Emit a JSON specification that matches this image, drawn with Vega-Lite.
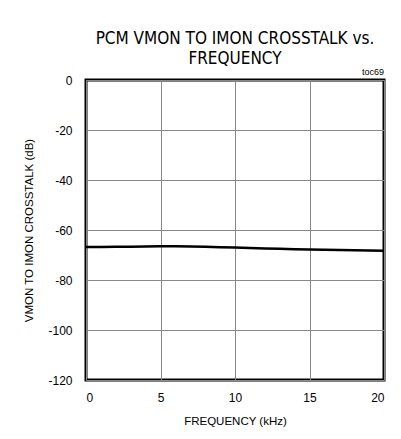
{
  "$schema": "https://vega.github.io/schema/vega-lite/v6.json",
  "width": 298,
  "height": 300,
  "autosize": "none",
  "padding": {"left": 86, "top": 80, "right": 17, "bottom": 59},
  "background": "white",
  "title": {
    "text": ["PCM VMON TO IMON CROSSTALK vs.", "FREQUENCY"],
    "font": "DejaVu Sans Condensed",
    "fontSize": 17,
    "fontWeight": "normal",
    "color": "black",
    "lineHeight": 20,
    "offset": 0,
    "anchor": "middle"
  },
  "config": {
    "view": {"stroke": "black", "strokeWidth": 3},
    "axis": {
      "labelFont": "Liberation Sans",
      "titleFont": "Liberation Sans",
      "labelFontSize": 12,
      "titleFontSize": 11.5,
      "titleFontWeight": "normal",
      "labelColor": "black",
      "titleColor": "black",
      "gridColor": "#888888",
      "gridWidth": 1,
      "gridOpacity": 1,
      "domain": false,
      "ticks": false
    }
  },
  "datasets": {
    "curve": [
      {"f": 0, "db": -66.8},
      {"f": 1, "db": -66.8},
      {"f": 2, "db": -66.7},
      {"f": 3, "db": -66.7},
      {"f": 4, "db": -66.6},
      {"f": 5, "db": -66.5},
      {"f": 6, "db": -66.5},
      {"f": 7, "db": -66.6},
      {"f": 8, "db": -66.7},
      {"f": 9, "db": -66.9},
      {"f": 10, "db": -67.0},
      {"f": 11, "db": -67.2},
      {"f": 12, "db": -67.4},
      {"f": 13, "db": -67.5},
      {"f": 14, "db": -67.7},
      {"f": 15, "db": -67.8},
      {"f": 16, "db": -67.9},
      {"f": 17, "db": -68.0},
      {"f": 18, "db": -68.1},
      {"f": 19, "db": -68.2},
      {"f": 20, "db": -68.3}
    ],
    "note": [{"f": 20, "db": 0, "label": "toc69"}]
  },
  "layer": [
    {
      "data": {"name": "curve"},
      "mark": {"type": "line", "color": "black", "strokeWidth": 2.5, "clip": true},
      "encoding": {
        "x": {
          "field": "f", "type": "quantitative",
          "scale": {"domain": [0, 20], "nice": false},
          "axis": {"values": [0, 5, 10, 15, 20], "labelExpr": "datum.value", "title": "FREQUENCY (kHz)", "labelPadding": 12, "titlePadding": 12, "grid": true}
        },
        "y": {
          "field": "db", "type": "quantitative",
          "scale": {"domain": [-120, 0], "nice": false},
          "axis": {"values": [-120, -100, -80, -60, -40, -20, 0], "labelExpr": "datum.value", "title": "VMON TO IMON CROSSTALK (dB)", "labelPadding": 14, "titlePadding": 13, "grid": true}
        }
      }
    },
    {
      "data": {"name": "note"},
      "mark": {"type": "text", "align": "right", "baseline": "bottom", "dy": -3, "font": "Liberation Sans", "fontSize": 9, "color": "black"},
      "encoding": {
        "x": {"field": "f", "type": "quantitative"},
        "y": {"field": "db", "type": "quantitative"},
        "text": {"field": "label"}
      }
    }
  ]
}
